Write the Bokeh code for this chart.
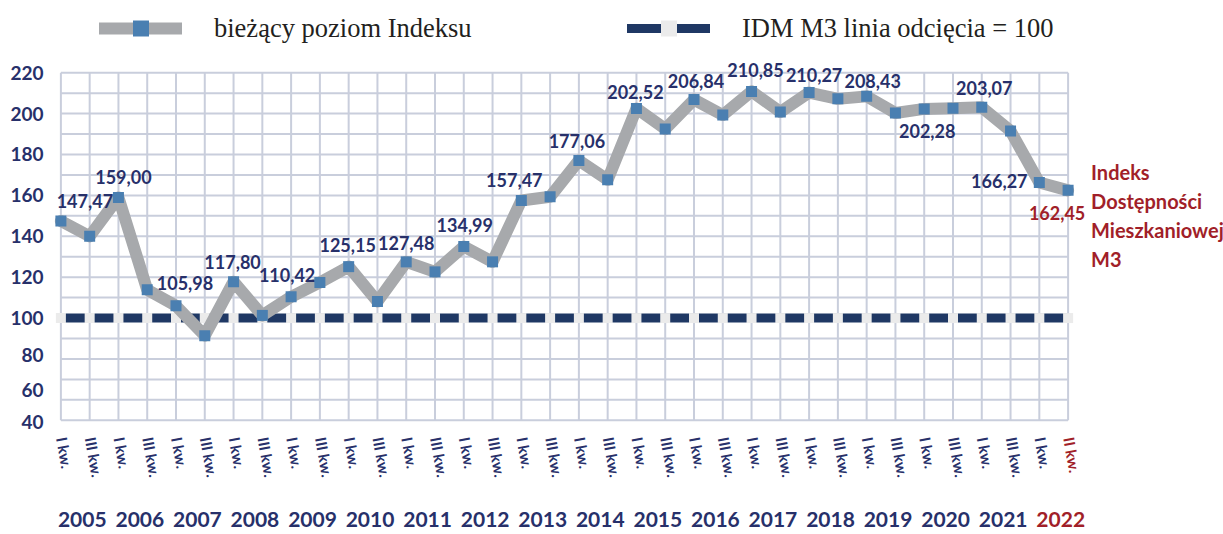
import numpy as np
from bokeh.plotting import figure
from bokeh.models import (ColumnDataSource, LabelSet, Legend, LegendItem,
                          FixedTicker, Range1d)
from bokeh.core.properties import value
from bokeh.embed import file_html
from bokeh.resources import INLINE

# ---------------- data ----------------
quarters = ["I kw.", "III kw."] * 17 + ["I kw.", "II kw."]
years = [str(y) for y in range(2005, 2023)]
index_values = [147.47, 140.0, 159.00, 113.8, 105.98, 91.4, 117.80, 101.3, 110.42, 117.4,
                125.15, 108.1, 127.48, 122.6, 134.99, 127.5, 157.47, 159.3, 177.06, 167.6,
                202.52, 192.5, 206.84, 199.3, 210.85, 200.8, 210.27, 207.2, 208.43, 200.3,
                202.28, 202.6, 203.07, 191.5, 166.27, 162.45]
cutoff = 100
labelled_points = [0, 2, 4, 6, 8, 10, 12, 14, 16, 18, 20, 22, 24, 26, 28, 30, 32, 34, 35]
y_tick_labels = ["220", "200", "180", "160", "140", "120", "100", "80", "60", "40"]
series_names = ["bieżący poziom Indeksu", "IDM M3 linia odcięcia = 100"]
annotation_lines = ["Indeks", "Dostępności", "Mieszkaniowej", "M3"]

# ---------------- style ----------------
NAVY = "#27306a"
RED = "#a11f29"
GRAY = "#a7a9ac"
BLUE = "#4a7fb1"
CUT_NAVY = "#1f3864"
LIGHT = "#ebebeb"
GRID = "#c9cedc"
FONT = "Lato"
y_min, y_max, y_step = 50, 220, 10
y_tick_pos = [220, 200, 180, 160, 140, 120, 100, 82, 65, 49]
# label offsets in screen pixels (dx, dy) relative to the point
label_offsets = {0: (24, 20.5), 2: (5, 20), 4: (9, 23), 6: (-1, 20), 8: (-4, 22),
                 10: (-1, 22), 12: (0, 19), 14: (1, 22), 16: (-7, 20.5), 18: (-2, 19),
                 20: (-1, 16), 22: (2, 18.7), 24: (4, 21), 26: (5, 17.5), 28: (6, 15.7),
                 30: (3, -22.5), 32: (2.5, 19), 34: (-40, 2), 35: (-11, -22.7)}

n = len(index_values)
gx = np.arange(n)

W, H = 1223, 534
LEFT = 46
p = figure(width=W, height=H, x_range=Range1d(-0.5, 40.40), y_range=Range1d(-5.85, 255.31),
           output_backend="svg", toolbar_location=None, title=None,
           min_border=0, min_border_left=LEFT)
p.outline_line_color = None
p.grid.visible = False
p.xaxis.visible = False

# grid
gy = np.arange(y_min, y_max + 1, y_step)
p.segment(x0=0, y0=gy, x1=n - 1, y1=gy, line_color=GRID, line_width=2)
p.segment(x0=gx, y0=y_min, x1=gx, y1=y_max, line_color=GRID, line_width=2)

# cutoff line
r_cut = p.line(x=[0, n - 1], y=[cutoff, cutoff], line_color=CUT_NAVY, line_width=9,
               line_cap="round")
r_sq = p.scatter(x=gx, y=[cutoff] * n, marker="square", size=10, fill_color=LIGHT,
                 line_color=None)

# index series
src = ColumnDataSource(dict(x=gx, y=index_values))
r_line = p.line("x", "y", source=src, line_color=GRAY, line_width=12,
                line_join="round", line_cap="round")
r_pts = p.scatter("x", "y", source=src, marker="square", size=11, fill_color=BLUE,
                  line_color=None)

# data labels
lab = dict(x=[], y=[], text=[], dx=[], dy=[], color=[])
for i in labelled_points:
    lab["x"].append(i)
    lab["y"].append(index_values[i])
    lab["text"].append(f"{index_values[i]:.2f}".replace(".", ","))
    dx, dy = label_offsets[i]
    lab["dx"].append(dx)
    lab["dy"].append(dy)
    lab["color"].append(RED if i == n - 1 else NAVY)
p.add_layout(LabelSet(x="x", y="y", text="text", x_offset="dx", y_offset="dy",
                      source=ColumnDataSource(lab), text_font=value(FONT),
                      text_font_style="bold",
                      text_font_size="18px", text_color="color",
                      text_align="center", text_baseline="middle"))

# quarter labels
qsrc = ColumnDataSource(dict(x=gx, y=[y_min] * n, text=quarters,
                             color=[RED if i == n - 1 else NAVY for i in range(n)]))
p.add_layout(LabelSet(x="x", y="y", text="text", source=qsrc, y_offset=-17, x_offset=1,
                      angle=-80, angle_units="deg", text_font=value(FONT),
                      text_font_style="bold",
                      text_font_size="15px", text_color="color",
                      text_align="left", text_baseline="middle"))

# year labels
ysrc = ColumnDataSource(dict(x=[2 * k + 0.5 for k in range(len(years))],
                             y=[y_min] * len(years), text=years,
                             color=[RED if k == len(years) - 1 else NAVY
                                    for k in range(len(years))]))
p.add_layout(LabelSet(x="x", y="y", text="text", source=ysrc, y_offset=-107, x_offset=7,
                      text_font=value(FONT), text_font_style="bold",
                      text_font_size="21px", text_color="color",
                      text_align="center", text_baseline="alphabetic"))

# right annotation
asrc = ColumnDataSource(dict(x=[n - 1] * len(annotation_lines),
                             y=[index_values[-1]] * len(annotation_lines),
                             text=annotation_lines,
                             dy=[18.8 - 29 * k for k in range(len(annotation_lines))]))
p.add_layout(LabelSet(x="x", y="y", text="text", source=asrc, x_offset=23, y_offset="dy",
                      text_font=value(FONT), text_font_style="bold",
                      text_font_size="20px", text_color=RED,
                      text_align="left", text_baseline="middle"))

# y axis
p.yaxis.ticker = FixedTicker(ticks=y_tick_pos)
p.yaxis.major_label_overrides = {pos: lbl for pos, lbl in zip(y_tick_pos, y_tick_labels)}
p.yaxis.axis_line_color = None
p.yaxis.major_tick_line_color = None
p.yaxis.minor_tick_line_color = None
p.yaxis.major_tick_out = 0
p.yaxis.major_tick_in = 0
p.yaxis.major_label_standoff = 3
p.yaxis.major_label_text_font = FONT
p.yaxis.major_label_text_font_style = "bold"
p.yaxis.major_label_text_font_size = "19px"
p.yaxis.major_label_text_color = NAVY

# legend
legend = Legend(items=[LegendItem(label=series_names[0], renderers=[r_line, r_pts]),
                       LegendItem(label=series_names[1], renderers=[r_cut, r_sq])],
                location=(53, 486), orientation="horizontal", glyph_width=83,
                glyph_height=40, label_standoff=32, label_width=413, spacing=0,
                padding=0, margin=0, label_text_font="Liberation Serif",
                label_text_font_size="26.5px", label_text_color="#231f20",
                border_line_color=None, background_fill_alpha=0)
p.add_layout(legend)

open("out.html", "w").write(file_html(p, INLINE))
